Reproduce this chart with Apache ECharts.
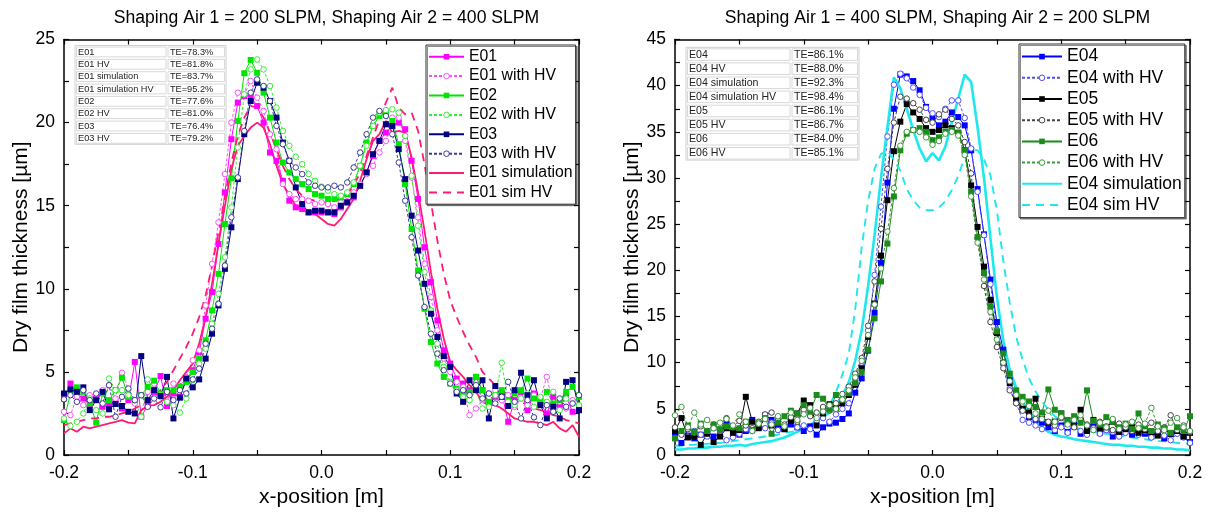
<!DOCTYPE html>
<html>
<head>
<meta charset="utf-8">
<script src="https://cdn.jsdelivr.net/npm/echarts@6.0.0/dist/echarts.min.js"></script>
<style>
html,body{margin:0;padding:0;background:#fff;}
#chart{width:1210px;height:516px;}
</style>
</head>
<body>
<div id="chart"></div>
<script>
// ---------- DATA ----------
const XS = [-0.2,-0.195,-0.19,-0.185,-0.18,-0.175,-0.17,-0.165,-0.16,-0.155,
-0.15,-0.145,-0.14,-0.135,-0.13,-0.125,-0.12,-0.115,-0.11,-0.105,
-0.1,-0.095,-0.09,-0.085,-0.08,-0.075,-0.07,-0.065,-0.06,-0.055,
-0.05,-0.045,-0.04,-0.035,-0.03,-0.025,-0.02,-0.015,-0.01,-0.005,
0,0.005,0.01,0.015,0.02,0.025,0.03,0.035,0.04,0.045,
0.05,0.055,0.06,0.065,0.07,0.075,0.08,0.085,0.09,0.095,
0.1,0.105,0.11,0.115,0.12,0.125,0.13,0.135,0.14,0.145,
0.15,0.155,0.16,0.165,0.17,0.175,0.18,0.185,0.19,0.195,0.2];

// Left panel (Shaping Air 1 = 200, Shaping Air 2 = 400)
const E01 = [3.4,4.3,3.7,3.4,3.0,3.4,2.9,3.0,3.2,2.8,
3.3,5.6,2.3,3.0,3.8,4.75,2.95,3.7,3.5,4.5,
5.1,6.2,8.2,9.8,12.7,15.8,19.0,21.2,21.6,21.6,
21.0,20.0,18.2,17.7,16.5,15.3,14.9,14.8,14.6,14.6,
14.6,14.6,14.5,14.9,15.2,15.5,16.2,17.0,18.0,18.9,
19.4,19.8,20.0,19.6,17.7,15.4,12.5,10.4,8.1,6.3,
5.5,4.6,4.3,3.9,4.7,3.9,3.1,3.5,3.7,2.0,
3.3,3.8,2.7,3.7,3.1,2.5,3.5,2.9,3.5,2.6,2.7];
const E01_HV = [2.6,2.4,3.5,3.0,3.6,3.35,3.9,4.2,3.4,4.95,
3.95,3.1,3.6,3.8,4.3,3.5,3.2,4.3,4.15,4.67,
5.7,6.3,9.0,11.5,14.0,16.9,20.0,21.8,21.7,22.5,
21.5,20.7,19.3,18.4,16.3,15.7,15.4,15.4,15.3,15.1,
15.2,15.1,14.9,15.2,15.6,15.8,16.3,16.9,17.4,18.2,
18.9,20.3,20.3,18.9,16.7,14.3,11.5,9.5,7.5,5.8,
5.0,4.4,4.1,2.4,2.8,3.3,3.7,3.9,3.3,3.6,
2.9,3.4,3.0,3.6,3.4,4.7,3.0,3.2,2.8,3.3,2.9];
const E02 = [2.1,3.7,4.07,3.8,3.1,1.95,3.7,3.3,3.9,4.65,
3.5,3.3,3.6,4.1,4.47,3.7,3.9,3.9,4.1,4.4,
5.0,5.8,6.9,8.7,10.9,13.9,16.65,20.1,22.97,23.77,
23.0,21.8,20.3,18.8,17.6,17.0,16.6,16.3,16.0,15.7,
15.6,15.4,15.4,15.5,15.7,16.3,17.4,18.8,19.8,20.4,
20.6,20.1,18.7,16.3,13.6,11.1,8.8,6.8,5.5,4.7,
4.3,4.0,3.7,3.8,4.7,3.9,3.2,3.6,3.9,3.3,
3.7,3.9,4.6,3.4,3.3,3.8,3.1,3.3,3.8,4.1,3.5];
const E02_HV = [2.2,1.75,2.0,2.5,3.4,2.7,2.5,4.6,3.9,3.9,
3.6,3.3,2.3,4.55,3.9,3.6,3.2,3.0,2.55,3.4,
4.5,5.5,6.4,7.9,9.7,11.9,14.9,18.5,21.7,23.2,
23.8,23.2,22.2,20.9,19.5,18.6,17.95,17.5,16.9,16.5,
16.15,15.9,15.7,15.6,15.8,16.4,17.4,18.6,19.8,20.6,
20.75,20.8,20.6,19.2,16.8,13.8,11.0,8.7,6.7,5.3,
4.4,3.9,3.5,3.3,3.9,2.8,2.9,3.6,5.55,3.2,
3.0,3.4,3.7,2.9,3.5,3.2,3.8,2.7,3.4,3.1,3.0];
const E03 = [3.7,3.95,3.8,4.07,2.7,3.3,3.8,2.75,3.07,2.95,
2.6,2.5,5.95,3.3,3.9,3.55,4.7,2.2,3.45,4.6,
4.07,4.55,5.8,7.3,9.0,11.2,13.7,16.6,19.3,21.3,
22.4,22.1,21.3,20.3,18.8,17.7,16.1,15.1,14.6,14.7,
14.7,14.6,14.6,15.0,15.2,15.6,16.2,17.0,18.1,18.9,
19.9,19.8,18.4,16.6,14.4,12.3,10.3,8.5,7.1,5.95,
5.3,3.7,3.2,4.5,3.9,4.5,2.2,4.15,3.5,2.95,
3.9,4.95,3.6,4.5,3.0,2.2,2.9,2.2,4.4,4.5,2.7];
const E03_HV = [3.35,3.6,3.2,3.9,3.3,3.7,3.1,4.2,2.3,3.5,
4.0,3.3,3.6,2.9,3.4,2.87,3.8,3.3,3.9,3.7,
4.55,5.2,6.7,7.6,9.1,11.4,14.3,16.7,19.5,21.8,
22.6,22.2,21.3,19.8,18.7,17.7,17.3,16.9,16.4,16.2,
16.1,16.1,16.2,16.1,16.4,17.3,18.2,19.3,20.3,20.7,
20.4,19.3,17.6,15.3,13.1,10.8,8.9,7.3,6.1,5.1,
4.3,3.8,3.9,3.6,4.2,3.4,3.7,3.1,3.5,4.4,
3.2,2.2,3.3,2.27,1.8,3.0,2.6,3.4,2.9,3.1,3.6];
const E01_SIM = [1.3,1.6,1.4,1.7,1.6,1.7,1.8,1.9,2.0,2.1,
1.95,1.9,2.7,2.95,3.0,3.2,3.5,3.9,4.5,5.0,
5.5,6.7,8.3,10.3,12.7,15.0,17.2,18.6,19.2,19.7,
20.0,19.7,18.7,17.4,16.3,15.6,15.0,14.8,14.6,14.5,
14.2,13.9,13.8,14.2,14.8,15.4,16.5,17.8,18.9,19.3,
20.1,19.4,19.5,19.4,17.9,15.8,13.5,11.0,8.8,7.0,
5.6,5.1,4.7,4.2,3.8,3.2,3.0,3.0,2.8,2.5,
2.2,2.1,2.0,2.0,1.9,1.8,2.0,1.6,1.4,1.8,1.1];
const E01_SIM_HV = [1.8,1.9,2.0,2.1,2.2,2.2,2.3,2.3,2.4,2.5,
2.6,2.8,3.0,3.2,3.5,3.9,4.4,5.1,5.8,6.5,
7.3,8.3,9.6,11.4,13.4,15.5,17.6,19.2,20.3,21.0,
20.9,20.3,19.4,18.4,17.4,16.6,16.0,15.6,15.4,15.3,
15.2,15.2,15.3,15.4,15.7,16.2,17.0,18.0,19.1,20.2,
21.2,22.1,20.9,20.5,20.6,19.5,17.5,15.2,12.9,10.9,
9.3,8.3,7.4,6.6,5.9,5.0,4.6,4.2,3.9,3.6,
3.4,3.2,3.0,2.8,2.7,2.6,2.4,2.3,2.1,2.0,1.9];

// Right panel (Shaping Air 1 = 400, Shaping Air 2 = 200)
const E04 = [2.0,1.3,2.1,1.8,2.2,2.5,2.0,2.3,3.4,2.8,
2.2,2.6,3.8,3.0,4.3,3.8,3.2,2.8,3.3,3.0,
2.6,3.1,2.2,3.0,3.4,3.5,3.9,4.5,6.75,8.3,
11.3,15.4,20.8,29.5,37.5,41.2,41.0,40.5,39.5,37.7,
36.5,35.7,36.1,37.1,36.6,35.7,33.0,28.8,23.9,19.0,
14.4,11.4,8.1,5.8,5.0,4.1,3.8,3.5,3.0,2.6,
3.2,2.5,3.4,2.3,2.9,3.1,2.4,2.8,2.0,2.6,
3.0,2.2,2.7,2.3,2.0,2.5,1.8,2.3,2.6,2.0,1.4];
const E04_HV = [1.8,2.4,2.0,2.6,2.2,2.0,2.9,2.5,1.6,1.9,
2.3,2.8,2.6,3.4,2.9,3.5,2.7,3.1,3.8,3.0,
3.2,2.8,3.7,4.0,3.6,4.4,5.0,5.6,7.8,9.6,
13.5,19.5,26.9,34.5,40.1,41.3,40.8,39.8,39.0,37.6,
37.0,36.6,37.5,38.4,38.4,36.5,33.2,28.5,23.8,18.5,
13.5,10.0,7.2,5.6,3.8,3.5,3.2,2.8,3.5,2.7,
3.0,2.4,3.1,2.6,2.2,2.9,2.3,2.7,2.5,2.0,
2.4,2.8,2.2,2.6,1.9,2.4,2.1,1.6,2.3,1.9,1.3];
const E05 = [2.6,4.0,1.9,2.0,1.1,2.3,1.4,2.0,2.9,2.4,
2.7,6.3,3.6,2.9,4.0,3.2,3.5,2.8,3.7,4.5,
5.9,5.4,3.2,4.5,5.5,5.05,5.6,6.5,7.6,9.4,
12.8,16.4,21.6,27.6,32.9,36.1,38.0,37.1,36.4,35.4,
35.0,35.2,35.7,35.4,34.9,33.0,29.2,24.7,20.4,16.8,
13.2,10.0,7.8,6.2,5.0,4.6,6.1,4.2,3.5,3.6,
4.5,3.4,3.1,4.9,2.6,3.8,2.9,3.0,3.6,2.5,
2.8,3.0,2.4,2.7,2.5,2.1,2.8,2.3,2.6,2.0,2.4];
const E05_HV = [3.0,2.2,2.8,2.4,3.1,2.6,3.3,2.7,4.0,3.0,
3.7,3.2,2.9,3.6,4.4,4.6,3.8,3.3,4.1,3.6,
4.9,4.2,4.6,5.2,4.8,5.6,6.6,7.4,8.8,10.5,
14.0,18.8,24.5,31.0,36.0,38.8,38.6,38.1,37.4,36.3,
36.0,36.9,37.4,36.4,35.7,33.9,30.5,23.5,18.3,14.4,
11.7,9.4,7.0,5.6,4.8,4.2,3.9,4.4,3.6,3.2,
4.0,3.4,3.0,3.8,3.3,2.9,3.6,3.1,2.7,3.4,
3.0,2.6,3.3,2.8,3.5,2.6,3.0,4.3,2.7,3.2,2.5];
const E06 = [1.8,2.6,3.2,2.5,3.4,2.6,3.3,2.8,3.1,3.0,
2.9,3.6,2.7,3.4,4.0,2.3,3.5,4.2,4.8,4.5,
5.4,4.7,6.5,6.1,4.9,6.5,6.0,6.7,7.8,9.0,
11.4,14.8,18.8,22.9,28.0,33.0,34.8,35.2,35.4,35.0,
34.1,34.4,35.0,35.2,34.9,33.0,28.5,23.6,19.7,16.1,
13.4,11.0,8.8,7.0,6.3,5.8,5.2,4.6,7.1,4.9,
4.5,3.8,4.2,3.5,7.0,3.7,3.3,4.1,3.6,3.0,
3.4,2.8,4.5,3.1,2.6,3.3,2.9,2.4,3.0,2.6,4.2];
const E06_HV = [4.3,5.2,3.0,4.6,3.3,3.8,2.9,3.5,3.9,3.2,
4.4,3.6,2.6,3.4,3.9,3.3,4.2,3.1,4.6,3.8,
4.4,5.1,4.0,4.7,5.4,5.0,6.0,7.0,8.4,10.2,
13.0,16.3,20.2,24.2,28.9,33.5,35.0,35.2,35.0,34.4,
33.6,34.0,34.8,35.0,34.6,32.5,28.0,23.0,19.0,15.5,
12.5,10.0,8.0,6.5,5.8,5.3,4.5,3.9,4.8,3.6,
4.1,3.3,3.8,4.3,3.2,2.7,3.5,3.0,3.9,2.8,
3.3,3.6,2.9,3.4,5.1,3.1,2.7,3.5,4.0,3.0,2.6];
const E04_SIM = [0.6,0.6,0.7,0.7,0.8,0.8,0.9,0.9,1.0,1.0,
1.1,1.0,1.2,1.3,1.4,1.5,1.7,1.9,2.2,2.5,
2.9,3.3,3.7,4.1,4.6,5.3,6.4,7.9,10.2,13.5,
18.3,23.8,30.0,35.5,40.9,39.7,37.5,35.2,33.2,31.8,
32.7,31.9,33.4,36.0,38.6,41.2,40.4,35.5,30.0,23.5,
17.1,12.4,9.2,7.3,5.8,4.7,3.8,3.0,2.5,2.2,
2.0,1.9,1.7,1.6,1.5,1.4,1.3,1.2,1.1,1.1,
1.0,1.0,0.9,0.9,0.8,0.8,0.7,0.7,0.6,0.6,0.5];
const E04_SIM_HV = [1.0,1.0,1.1,1.1,1.2,1.2,1.3,1.3,1.4,1.5,
1.6,1.7,1.8,1.9,2.0,2.1,2.2,2.4,2.5,2.6,
2.8,3.1,3.4,4.3,5.4,6.8,8.7,11.0,15.8,22.5,
27.5,31.0,32.6,32.9,32.0,30.8,28.8,27.6,26.8,26.5,
26.5,26.8,27.5,28.7,30.2,32.3,33.0,33.0,32.0,30.3,
26.5,21.0,16.5,12.8,10.3,8.3,6.9,5.8,4.9,4.2,
3.7,3.3,3.0,2.8,2.6,2.5,2.4,2.3,2.2,2.1,
2.0,1.9,1.8,1.7,1.6,1.5,1.5,1.4,1.3,1.3,1.2];

// Transfer-efficiency tables
const TABLE_LEFT_NAMES = ['E01','E01 HV','E01 simulation','E01 simulation HV','E02','E02 HV','E03','E03 HV'];
const TABLE_LEFT_TE = ['TE=78.3%','TE=81.8%','TE=83.7%','TE=95.2%','TE=77.6%','TE=81.0%','TE=76.4%','TE=79.2%'];
const TABLE_RIGHT_NAMES = ['E04','E04 HV','E04 simulation','E04 simulation HV','E05','E05 HV','E06','E06 HV'];
const TABLE_RIGHT_TE = ['TE=86.1%','TE=88.0%','TE=92.3%','TE=98.4%','TE=86.1%','TE=86.7%','TE=84.0%','TE=85.1%'];

const TITLE_LEFT = 'Shaping Air 1 = 200 SLPM, Shaping Air 2 = 400 SLPM';
const TITLE_RIGHT = 'Shaping Air 1 = 400 SLPM, Shaping Air 2 = 200 SLPM';
const X_NAME = 'x-position [m]';
const Y_NAME = 'Dry film thickness [µm]';

// ---------- CHART ----------
const FONT = '"Liberation Sans", Arial, sans-serif';
const chart = echarts.init(document.getElementById('chart'), null, {renderer: 'canvas'});

function pairs(arr) { return XS.map((x, k) => [x, arr[k]]); }

function mk(name, arr, gi, color, kind) {
  const s = {
    type: 'line', name: name, xAxisIndex: gi * 2, yAxisIndex: gi * 2,
    data: pairs(arr), animation: false, clip: true,
    lineStyle: {color: color, width: 1}, itemStyle: {color: color}
  };
  if (kind === 'exp') {
    s.symbol = 'rect'; s.symbolSize = 6; s.showSymbol = true;
  } else if (kind === 'hv') {
    s.symbol = 'circle'; s.symbolSize = 5.5;
    s.lineStyle.type = [3, 2];
    s.itemStyle = {color: '#ffffff', borderColor: color, borderWidth: 1};
  } else if (kind === 'sim') {
    s.symbol = 'none'; s.lineStyle.width = gi === 0 ? 1.8 : 2.6;
  } else if (kind === 'simhv') {
    s.symbol = 'none'; s.lineStyle.width = gi === 0 ? 1.8 : 1.9;
    s.lineStyle.type = [8, 6];
  }
  s._kind = kind;
  return s;
}

function xFmt(v) { const r = Math.round(v * 10); return Math.abs(v * 10 - r) < 1e-6 ? (r / 10).toFixed(1) : ''; }
function yFmt(v) { const r = Math.round(v / 5); return Math.abs(v / 5 - r) < 1e-6 ? String(r * 5) : ''; }

function xAx(gi, pos, main) {
  return {
    type: 'value', gridIndex: gi, position: pos, min: -0.2, max: 0.2, interval: 0.05,
    axisLine: {show: true, onZero: false, lineStyle: {color: '#000', width: 1.5}},
    axisTick: {show: true, inside: true, length: 5, lineStyle: {color: '#000', width: 1.2}},
    axisLabel: {show: main, margin: 9, color: '#000', fontSize: 17.5, fontFamily: FONT, formatter: xFmt},
    splitLine: {show: false},
    name: main ? X_NAME : '', nameLocation: 'middle', nameGap: 31,
    nameTextStyle: {fontSize: 21, color: '#000', fontFamily: FONT}
  };
}
function yAx(gi, pos, main, max) {
  return {
    type: 'value', gridIndex: gi, position: pos, min: 0, max: max, interval: 2.5,
    axisLine: {show: true, onZero: false, lineStyle: {color: '#000', width: 1.5}},
    axisTick: {show: true, inside: true, length: 5, lineStyle: {color: '#000', width: 1.2}},
    axisLabel: {show: main, margin: 9, color: '#000', fontSize: 17.5, fontFamily: FONT, formatter: yFmt},
    splitLine: {show: false},
    name: main ? Y_NAME : '', nameLocation: 'middle', nameGap: 31,
    nameTextStyle: {fontSize: 21, color: '#000', fontFamily: FONT}
  };
}

function table(x0, xDiv, x1, y0, rowH, names, tes, fontSize) {
  const children = [];
  children.push({type: 'rect', shape: {x: x0, y: y0, width: x1 - x0, height: rowH * names.length},
    style: {fill: '#fff', stroke: '#d0d0d0', lineWidth: 1}});
  names.forEach((n, k) => {
    const y = y0 + k * rowH;
    children.push({type: 'rect', shape: {x: x0 + 1.5, y: y + 1.5, width: xDiv - x0 - 2.5, height: rowH - 2.5},
      style: {fill: '#fff', stroke: '#d8d8d8', lineWidth: 1}});
    children.push({type: 'rect', shape: {x: xDiv + 1, y: y + 1.5, width: x1 - xDiv - 2.5, height: rowH - 2.5},
      style: {fill: '#fff', stroke: '#d8d8d8', lineWidth: 1}});
    children.push({type: 'text', x: x0 + 3, y: y + rowH / 2 + 0.5,
      style: {text: n, fontSize: fontSize, fontFamily: FONT, fill: '#222',
        textAlign: 'left', textVerticalAlign: 'middle', align: 'left', verticalAlign: 'middle'}});
    children.push({type: 'text', x: xDiv + 3, y: y + rowH / 2 + 0.5,
      style: {text: tes[k], fontSize: fontSize, fontFamily: FONT, fill: '#222',
        textAlign: 'left', textVerticalAlign: 'middle', align: 'left', verticalAlign: 'middle'}});
  });
  return {type: 'group', children: children};
}

const leftSeries = [
  mk('E01', E01, 0, '#ff00ff', 'exp'),
  mk('E01 with HV', E01_HV, 0, '#ff4dff', 'hv'),
  mk('E02', E02, 0, '#00e600', 'exp'),
  mk('E02 with HV', E02_HV, 0, '#33ee33', 'hv'),
  mk('E03', E03, 0, '#000080', 'exp'),
  mk('E03 with HV', E03_HV, 0, '#3b3b94', 'hv'),
  mk('E01 simulation', E01_SIM, 0, '#ff1a75', 'sim'),
  mk('E01 sim HV', E01_SIM_HV, 0, '#ff1a75', 'simhv')
];
const rightSeries = [
  mk('E04', E04, 1, '#0000ff', 'exp'),
  mk('E04 with HV', E04_HV, 1, '#4d4dff', 'hv'),
  mk('E05', E05, 1, '#000000', 'exp'),
  mk('E05 with HV', E05_HV, 1, '#444444', 'hv'),
  mk('E06', E06, 1, '#1a8c1a', 'exp'),
  mk('E06 with HV', E06_HV, 1, '#3d993d', 'hv'),
  mk('E04 simulation', E04_SIM, 1, '#1ee8ee', 'sim'),
  mk('E04 sim HV', E04_SIM_HV, 1, '#1ee8ee', 'simhv')
];

function legendItems(list) {
  return list.map(s => {
    if (s._kind === 'sim' || s._kind === 'simhv') return {name: s.name, itemStyle: {opacity: 0}};
    if (s._kind === 'hv') return {name: s.name, itemStyle: {color: '#ffffff', borderColor: s.lineStyle.color, borderWidth: 1}};
    return {name: s.name};
  });
}

function legend(left, top, list, fs, lh, iw) {
  return {
    show: true, orient: 'vertical', left: left, top: top, itemWidth: iw, itemHeight: 7, itemGap: 0,
    padding: [2, 3, 2, 2], backgroundColor: '#fff', borderColor: '#333', borderWidth: 1,
    shadowColor: 'rgba(0,0,0,0.45)', shadowOffsetX: 1.5, shadowOffsetY: 1.5, shadowBlur: 0,
    selectedMode: false,
    textStyle: {fontSize: fs, lineHeight: lh, color: '#000', fontFamily: FONT},
    data: legendItems(list)
  };
}

const allSeries = leftSeries.concat(rightSeries).map(s => { const c = Object.assign({}, s); delete c._kind; return c; });

const option = {
  animation: false,
  backgroundColor: '#fff',
  title: [
    {text: TITLE_LEFT, left: 321.5, top: 4, textAlign: 'center',
      textStyle: {fontSize: 17.6, fontWeight: 'normal', color: '#000', fontFamily: FONT}},
    {text: TITLE_RIGHT, left: 932.5, top: 4, textAlign: 'center',
      textStyle: {fontSize: 17.6, fontWeight: 'normal', color: '#000', fontFamily: FONT}}
  ],
  grid: [
    {left: 64, top: 39.5, width: 515, height: 415.5},
    {left: 675, top: 39.5, width: 515, height: 415.5}
  ],
  xAxis: [xAx(0, 'bottom', true), xAx(0, 'top', false), xAx(1, 'bottom', true), xAx(1, 'top', false)],
  yAxis: [yAx(0, 'left', true, 25), yAx(0, 'right', false, 25), yAx(1, 'left', true, 45), yAx(1, 'right', false, 45)],
  legend: [
    legend(426, 45, leftSeries, 15.8, 19.4, 35),
    legend(1019, 44, rightSeries, 17.5, 21.2, 40)
  ],
  graphic: [
    table(75, 167, 226, 45.5, 12.35, TABLE_LEFT_NAMES, TABLE_LEFT_TE, 9.2),
    table(686, 791, 859, 47.3, 14.1, TABLE_RIGHT_NAMES, TABLE_RIGHT_TE, 10.6)
  ],
  series: allSeries
};
chart.setOption(option);
</script>
</body>
</html>
